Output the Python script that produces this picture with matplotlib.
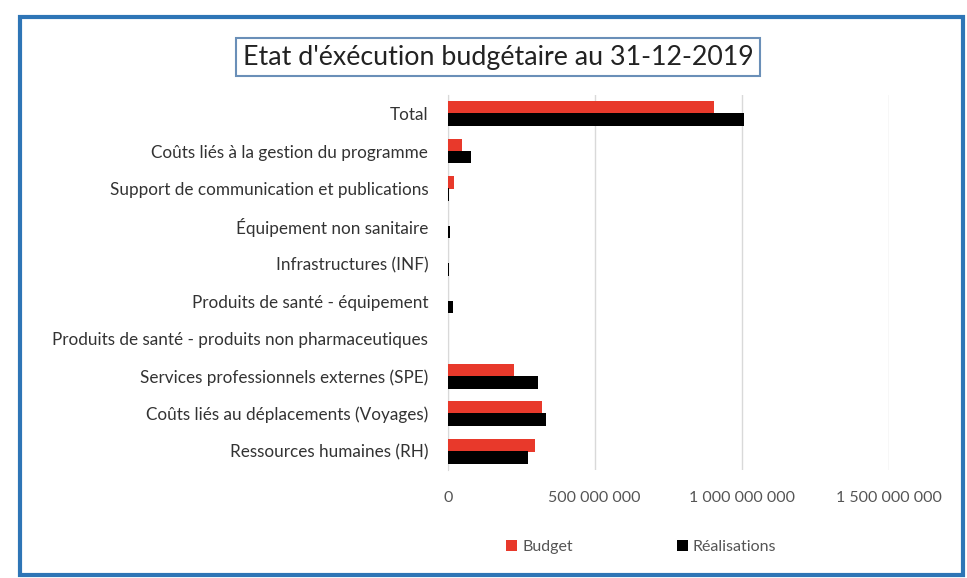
import matplotlib.pyplot as plt
import numpy as np
from matplotlib.patches import Rectangle
from matplotlib.ticker import FuncFormatter

plt.rcParams['font.family'] = ['Lato', 'DejaVu Sans']

# Data (bottom to top)
categories = [
    'Ressources humaines (RH)',
    'Coûts liés au déplacements (Voyages)',
    'Services professionnels externes (SPE)',
    'Produits de santé - produits non pharmaceutiques',
    'Produits de santé - équipement',
    'Infrastructures (INF)',
    'Équipement non sanitaire',
    'Support de communication et publications',
    'Coûts liés à la gestion du programme',
    'Total',
]
budget = [296e6, 320e6, 224e6, 0, 2e6, 0, 1e6, 20e6, 48e6, 905e6]
realisations = [272e6, 333e6, 306e6, 0, 17e6, 5e6, 7e6, 5e6, 78e6, 1007e6]
xticks = [0, 500e6, 1000e6, 1500e6]

fig = plt.figure(figsize=(9.67, 5.78), dpi=100)
ax = fig.add_axes([0.463, 0.187, 0.456, 0.649])

y = np.arange(len(categories))
h = 0.34
ax.barh(y + 0.16, budget, height=h, color='#E8392B', label='Budget', zorder=3)
ax.barh(y - 0.16, realisations, height=h, color='#000000', label='Réalisations', zorder=3)

ax.set_yticks(y)
ax.set_yticklabels(categories, fontsize=12.3, color='#333333')
ax.set_ylim(-0.5, len(categories) - 0.5)
ax.set_xlim(0, 1.5e9)
ax.set_xticks(xticks)
ax.xaxis.set_major_formatter(FuncFormatter(lambda v, p: f'{int(v):,}'.replace(',', ' ')))
ax.tick_params(axis='x', labelsize=11.5, colors='#555555', length=0, pad=15)
ax.tick_params(axis='y', length=0, pad=14)
ax.grid(axis='x', color='#d9d9d9', linewidth=1, zorder=0)
for s in ['top', 'right', 'bottom']:
    ax.spines[s].set_visible(False)
ax.spines['left'].set_color('#d9d9d9')

# legend
fig.legend(loc='center', bbox_to_anchor=(0.663, 0.053), ncol=2, frameon=False,
           fontsize=11.5, handlelength=0.7, handleheight=0.7, columnspacing=6.5,
           handletextpad=0.3, labelcolor='#555555')

# title in a box
fig.text(0.515, 0.901, "Etat d'éxécution budgétaire au 31-12-2019", ha='center', va='center',
         fontsize=19.3, color='#222222',
         bbox=dict(boxstyle='square,pad=0.25', facecolor='white', edgecolor='#6a8fb8', linewidth=1.5))

# outer border
fig.patches.append(Rectangle((0.021, 0.005), 0.975, 0.966, transform=fig.transFigure,
                             fill=False, edgecolor='#2E75B6', linewidth=3))

fig.savefig('out.png', dpi=100)
